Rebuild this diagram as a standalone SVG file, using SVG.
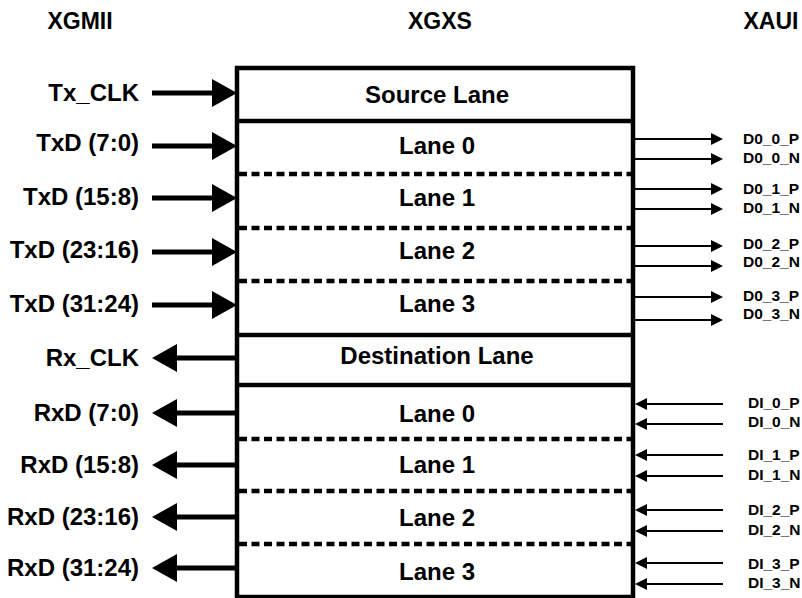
<svg xmlns="http://www.w3.org/2000/svg" width="802" height="598" viewBox="0 0 802 598">
<defs>
<style>
text{font-family:"Liberation Sans",Arial,Helvetica,sans-serif;font-weight:bold;fill:#000}
.hdr{font-size:23px;text-anchor:middle}
.lane{font-size:24px;text-anchor:middle}
.lbl{font-size:24px;text-anchor:end}
.pin{font-size:15.5px}
.solid{stroke:#000;stroke-width:4.5;fill:none}
.dash{stroke:#000;stroke-width:4.5;stroke-dasharray:8 4.5;fill:none}
.thick{stroke:#000;stroke-width:5;fill:none;marker-end:url(#bigHead)}
.thin{stroke:#000;stroke-width:2;fill:none;marker-end:url(#smallHead)}
</style>
<marker id="bigHead" markerUnits="userSpaceOnUse" viewBox="0 0 25 28" markerWidth="25" markerHeight="28" refX="13" refY="14" orient="auto">
<path d="M0,0 L25,14 L0,28 Z" fill="#000"/>
</marker>
<marker id="smallHead" markerUnits="userSpaceOnUse" viewBox="0 0 12 12" markerWidth="12" markerHeight="12" refX="4" refY="6" orient="auto">
<path d="M0,0 L12,6 L0,12 Z" fill="#000"/>
</marker>
</defs>
<rect width="802" height="598" fill="#fff"/>

<g id="headers">
<text class="hdr" x="80" y="29">XGMII</text>
<text class="hdr" x="440" y="29">XGXS</text>
<text class="hdr" x="771" y="29">XAUI</text>
</g>

<g id="xgxs">
<rect x="237" y="68" width="396" height="529" fill="#fff" stroke="#000" stroke-width="4.5"/>
<g id="source-lane"><line class="solid" x1="237" y1="121" x2="633" y2="121"/><text class="lane" x="437" y="103">Source Lane</text></g>
<g id="tx-lane0"><line class="dash" x1="239" y1="174" x2="631" y2="174"/><text class="lane" x="437" y="154">Lane 0</text></g>
<g id="tx-lane1"><line class="dash" x1="239" y1="228" x2="631" y2="228"/><text class="lane" x="437" y="206">Lane 1</text></g>
<g id="tx-lane2"><line class="dash" x1="239" y1="281" x2="631" y2="281"/><text class="lane" x="437" y="259">Lane 2</text></g>
<g id="tx-lane3"><line class="solid" x1="237" y1="335" x2="633" y2="335"/><text class="lane" x="437" y="312">Lane 3</text></g>
<g id="destination-lane"><line class="solid" x1="237" y1="385" x2="633" y2="385"/><text class="lane" x="437" y="364">Destination Lane</text></g>
<g id="rx-lane0"><line class="dash" x1="239" y1="439" x2="631" y2="439"/><text class="lane" x="437" y="422">Lane 0</text></g>
<g id="rx-lane1"><line class="dash" x1="239" y1="491" x2="631" y2="491"/><text class="lane" x="437" y="473">Lane 1</text></g>
<g id="rx-lane2"><line class="dash" x1="239" y1="544" x2="631" y2="544"/><text class="lane" x="437" y="526">Lane 2</text></g>
<g id="rx-lane3"><text class="lane" x="437" y="580">Lane 3</text></g>
</g>

<g id="xgmii-labels">
<text class="lbl" x="139" y="101">Tx_CLK</text>
<text class="lbl" x="139" y="151">TxD (7:0)</text>
<text class="lbl" x="139" y="205">TxD (15:8)</text>
<text class="lbl" x="139" y="258">TxD (23:16)</text>
<text class="lbl" x="139" y="312">TxD (31:24)</text>
<text class="lbl" x="139" y="366">Rx_CLK</text>
<text class="lbl" x="139" y="421">RxD (7:0)</text>
<text class="lbl" x="139" y="473">RxD (15:8)</text>
<text class="lbl" x="139" y="525">RxD (23:16)</text>
<text class="lbl" x="139" y="576">RxD (31:24)</text>
</g>

<g id="xaui-labels">
<text class="pin" x="743" y="144">D0_0_P</text>
<text class="pin" x="743" y="163">D0_0_N</text>
<text class="pin" x="743" y="194">D0_1_P</text>
<text class="pin" x="743" y="213">D0_1_N</text>
<text class="pin" x="743" y="249">D0_2_P</text>
<text class="pin" x="743" y="267">D0_2_N</text>
<text class="pin" x="743" y="301">D0_3_P</text>
<text class="pin" x="743" y="319">D0_3_N</text>
<text class="pin" x="748" y="408">DI_0_P</text>
<text class="pin" x="748" y="427">DI_0_N</text>
<text class="pin" x="748" y="460">DI_1_P</text>
<text class="pin" x="748" y="480">DI_1_N</text>
<text class="pin" x="748" y="515">DI_2_P</text>
<text class="pin" x="748" y="535">DI_2_N</text>
<text class="pin" x="748" y="569">DI_3_P</text>
<text class="pin" x="748" y="588">DI_3_N</text>
</g>

<g id="connectors">
<line class="thick" x1="152" y1="93" x2="225" y2="93"/>
<line class="thick" x1="152" y1="146" x2="225" y2="146"/>
<line class="thick" x1="152" y1="198" x2="225" y2="198"/>
<line class="thick" x1="152" y1="252" x2="225" y2="252"/>
<line class="thick" x1="152" y1="305" x2="225" y2="305"/>
<line class="thick" x1="237" y1="358" x2="164" y2="358"/>
<line class="thick" x1="237" y1="413" x2="164" y2="413"/>
<line class="thick" x1="237" y1="465" x2="164" y2="465"/>
<line class="thick" x1="237" y1="517" x2="164" y2="517"/>
<line class="thick" x1="237" y1="568" x2="164" y2="568"/>
<line class="thin" x1="635" y1="139" x2="715" y2="139"/>
<line class="thin" x1="635" y1="159" x2="715" y2="159"/>
<line class="thin" x1="635" y1="189" x2="715" y2="189"/>
<line class="thin" x1="635" y1="209" x2="715" y2="209"/>
<line class="thin" x1="635" y1="246" x2="715" y2="246"/>
<line class="thin" x1="635" y1="266" x2="715" y2="266"/>
<line class="thin" x1="635" y1="297" x2="715" y2="297"/>
<line class="thin" x1="635" y1="320" x2="715" y2="320"/>
<line class="thin" x1="723" y1="404" x2="643" y2="404"/>
<line class="thin" x1="723" y1="424" x2="643" y2="424"/>
<line class="thin" x1="723" y1="455" x2="643" y2="455"/>
<line class="thin" x1="723" y1="476" x2="643" y2="476"/>
<line class="thin" x1="723" y1="510" x2="643" y2="510"/>
<line class="thin" x1="723" y1="531" x2="643" y2="531"/>
<line class="thin" x1="723" y1="563" x2="643" y2="563"/>
<line class="thin" x1="723" y1="584" x2="643" y2="584"/>
</g>
</svg>
